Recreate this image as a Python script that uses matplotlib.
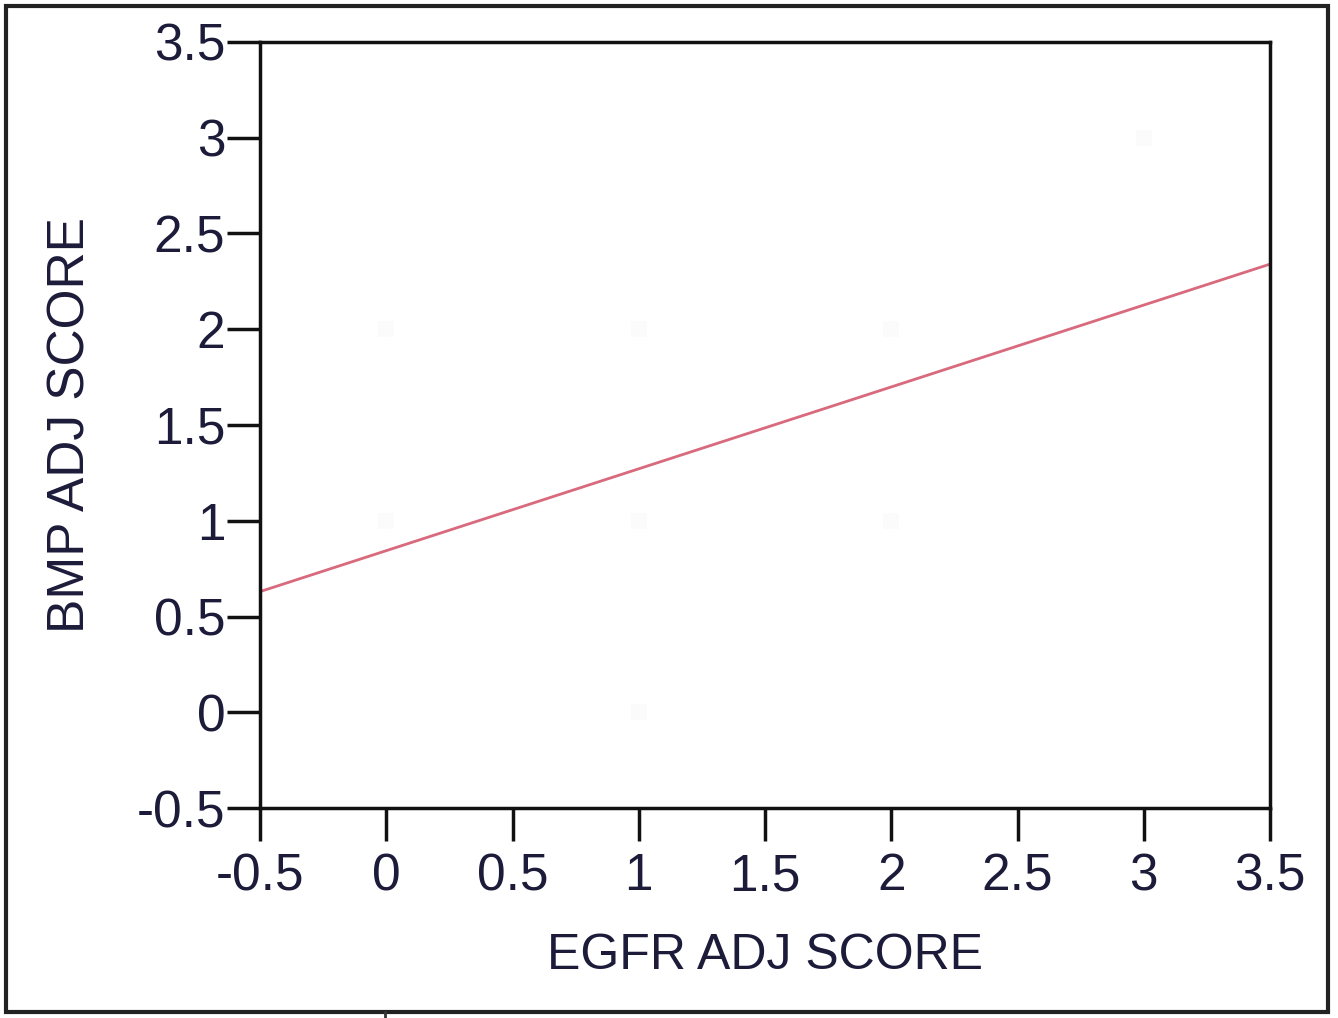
import matplotlib
matplotlib.use("Agg")
import matplotlib.pyplot as plt
from matplotlib.patches import Rectangle
from matplotlib.lines import Line2D

# Data
fit_x = [-0.5, 3.5]
fit_y = [0.63, 2.34]
pts_x = [0, 1, 2, 0, 1, 2, 1, 3]
pts_y = [2, 2, 2, 1, 1, 1, 0, 3]
ticks = [-0.5, 0, 0.5, 1, 1.5, 2, 2.5, 3, 3.5]
tick_labels = ["-0.5", "0", "0.5", "1", "1.5", "2", "2.5", "3", "3.5"]

plt.rcParams['font.family'] = ['Liberation Sans Narrow', 'Liberation Sans', 'DejaVu Sans']
txt = '#1c1c3a'

fig = plt.figure(figsize=(13.38, 10.18), dpi=100)
ax = fig.add_axes([260/1338, 1-808/1018, (1270-260)/1338, (808-42)/1018])

ax.scatter(pts_x, pts_y, s=120, color='#fbfbfb', marker='s', zorder=1, linewidths=0)
ax.plot(fit_x, fit_y, color='#d9697c', lw=2.0, zorder=2)

ax.set_xlim(-0.5, 3.5)
ax.set_ylim(-0.5, 3.5)
ax.set_xticks(ticks)
ax.set_xticklabels(tick_labels)
ax.set_yticks(ticks)
ax.set_yticklabels(tick_labels)
ax.tick_params(axis='both', direction='out', length=24, width=2.5, color='#111111',
               labelsize=37, labelcolor=txt)
ax.tick_params(axis='y', pad=1)
ax.tick_params(axis='x', pad=8)
for s in ax.spines.values():
    s.set_linewidth(2.5)
    s.set_color('#111111')

ax.set_xlabel("EGFR ADJ SCORE", fontsize=36, color=txt, labelpad=23)
ax.set_ylabel("BMP ADJ SCORE", fontsize=37, color=txt, labelpad=30)

fig.patches.append(Rectangle((6/1338, 6/1018), (1328-6)/1338, (1012-6)/1018,
                             transform=fig.transFigure, fill=False,
                             edgecolor='#222222', lw=3))
fig.lines.append(Line2D([385/1338, 385/1338], [0, 6/1018], transform=fig.transFigure,
                        color='#333333', lw=2))

fig.savefig("out.png", dpi=100)
